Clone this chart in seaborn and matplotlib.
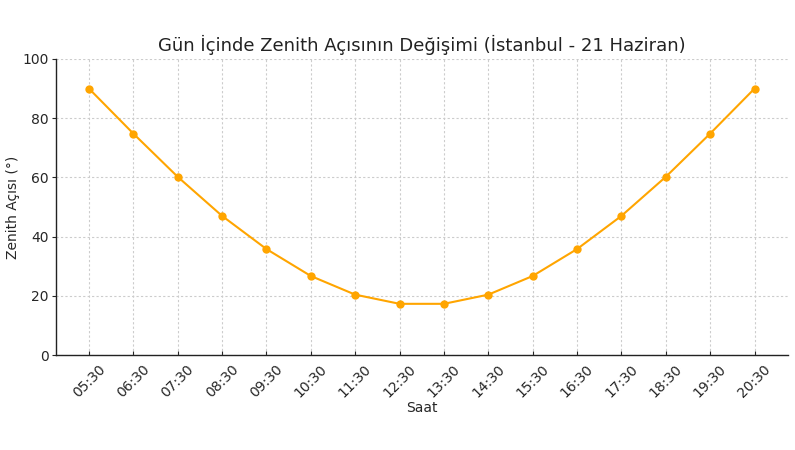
import matplotlib
matplotlib.use("Agg")
import matplotlib.pyplot as plt
import seaborn as sns
import pandas as pd

saatler = ["05:30", "06:30", "07:30", "08:30", "09:30", "10:30", "11:30", "12:30",
           "13:30", "14:30", "15:30", "16:30", "17:30", "18:30", "19:30", "20:30"]
zenith = [90.0, 74.8, 60.2, 47.0, 35.8, 26.7, 20.4, 17.3,
          17.3, 20.4, 26.7, 35.8, 47.0, 60.2, 74.8, 90.0]

df = pd.DataFrame({"Saat": saatler, "Zenith": zenith})

sns.set_style("white")
plt.rcParams["font.family"] = ["DejaVu Sans"]

fig = plt.figure(figsize=(7.95, 4.5), dpi=100)
ax = fig.add_axes([0.07, 0.211, 0.921, 0.658])

sns.lineplot(data=df, x="Saat", y="Zenith", marker="o", color="orange",
             markersize=6, markeredgewidth=0, linewidth=1.5, ax=ax)

ax.grid(True, linestyle=(0, (2, 2)), color="#cccccc", linewidth=0.8)
ax.set_ylim(0, 100)
ax.set_xlim(-0.75, len(saatler) - 0.25)
ax.set_yticks([0, 20, 40, 60, 80, 100])
ax.tick_params(axis="x", rotation=45, labelsize=10, length=3, pad=5, direction="in", bottom=True)
ax.tick_params(axis="y", labelsize=10, length=3, pad=2, direction="out", left=True)
sns.despine(ax=ax, top=True, right=True)
for s in ["left", "bottom"]:
    ax.spines[s].set_color("#222222")
    ax.spines[s].set_linewidth(1.0)

ax.set_title("Gün İçinde Zenith Açısının Değişimi (İstanbul - 21 Haziran)", fontsize=13, color="#222222")
ax.set_xlabel("Saat", fontsize=10, labelpad=1)
ax.set_ylabel("Zenith Açısı (°)", fontsize=10, labelpad=2)

fig.savefig("out.png", dpi=100)
